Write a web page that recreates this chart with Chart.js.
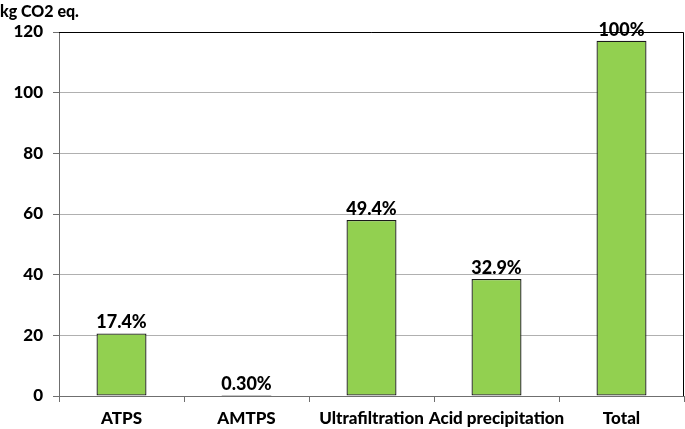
<!DOCTYPE html>
<html><head><meta charset="utf-8">
<script src="https://cdn.jsdelivr.net/npm/chart.js@4"></script>
<style>html,body{margin:0;padding:0;background:#fff}#w{width:685px;height:429px}</style>
</head><body><div id="w"><canvas id="c"></canvas></div>
<script>
const categories = ["ATPS", "AMTPS", "Ultrafiltration", "Acid precipitation", "Total"];
const values = [20.6, 0.35, 58.0, 38.6, 117.1];
const percentLabels = ["17.4%", "0.30%", "49.4%", "32.9%", "100%"];
const yTicks = [0, 20, 40, 60, 80, 100, 120];
const yTitle = "kg CO2 eq.";
const FONT = "Lato, 'Open Sans', sans-serif";
const W = '900';

const extras = {
  id: 'extras',
  afterDraw(chart) {
    const ctx = chart.ctx, a = chart.chartArea;
    ctx.save();
    ctx.strokeStyle = '#000'; ctx.lineWidth = 1;
    ctx.beginPath();
    ctx.moveTo(a.left, a.top + 0.5); ctx.lineTo(a.right - 0.5, a.top + 0.5); ctx.lineTo(a.right - 0.5, a.bottom);
    ctx.stroke();
    ctx.fillStyle = '#000';
    ctx.font = W + " 18px " + FONT;
    ctx.textAlign = 'center'; ctx.textBaseline = 'bottom';
    const meta = chart.getDatasetMeta(0);
    meta.data.forEach((bar, i) => {
      ctx.fillText(percentLabels[i], bar.x, bar.y - 2);
    });
    ctx.font = W + " 16px " + FONT;
    ctx.textAlign = 'left'; ctx.textBaseline = 'middle';
    ctx.fillText(yTitle, 0, 12);
    ctx.restore();
  }
};

new Chart(document.getElementById('c'), {
  type: 'bar',
  data: { labels: categories, datasets: [{ data: values, backgroundColor: '#92D050', borderColor: '#1a1a1a', borderWidth: 1.3, borderSkipped: false, barPercentage: 0.4, categoryPercentage: 1 }] },
  options: {
    responsive: true, maintainAspectRatio: false, animation: false,
    layout: { padding: { top: 32, right: 1, left: 0, bottom: 0 } },
    plugins: { legend: { display: false }, tooltip: { enabled: false } },
    scales: {
      x: {
        grid: { display: true, drawOnChartArea: false, drawTicks: true, tickLength: 6, color: '#6f6f6f', offset: true },
        border: { color: '#6f6f6f' },
        ticks: { color: '#000', font: { family: FONT, size: 17, weight: W }, padding: 6, minRotation: 0, maxRotation: 0, autoSkip: false },
        afterFit(s) { s.height = 33; }
      },
      y: {
        min: 0, max: 120,
        afterBuildTicks(s) { s.ticks = yTicks.map(v => ({ value: v })); },
        grid: { color: '#b0b0b0', tickLength: 6, tickColor: '#6f6f6f' },
        border: { color: '#6f6f6f' },
        ticks: { color: '#000', font: { family: FONT, size: 17, weight: W }, padding: 10 },
        afterFit(s) { s.width = 59; }
      }
    }
  },
  plugins: [extras]
});
</script></body></html>
